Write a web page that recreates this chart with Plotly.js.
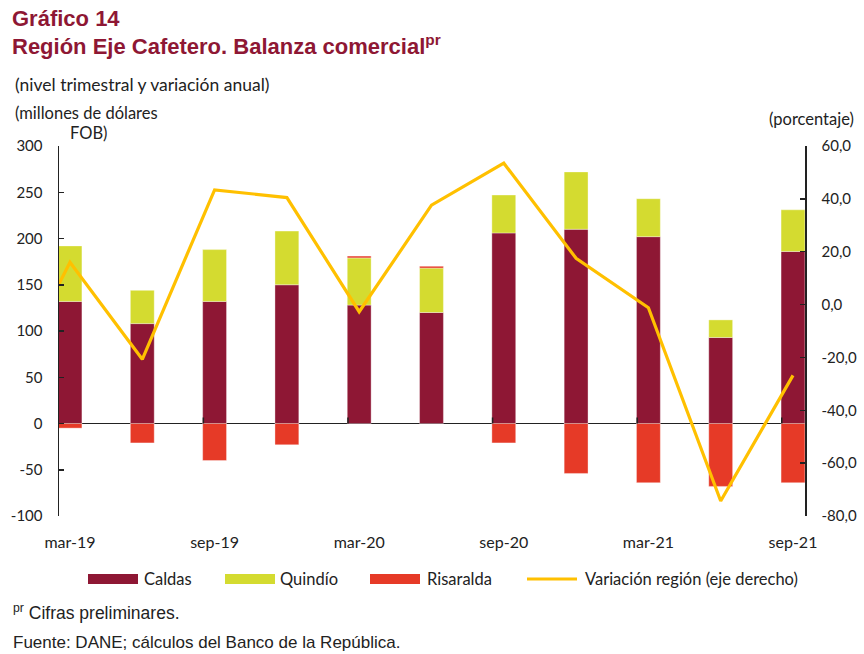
<!DOCTYPE html>
<html>
<head>
<meta charset="utf-8">
<script src="https://cdn.plot.ly/plotly-3.0.1.min.js"></script>
<style>html,body{margin:0;padding:0;background:#fff;} #chart{width:864px;height:654px;}</style>
</head>
<body>
<div id="chart"></div>
<script>
// ---- data ----
const quarters = ['mar-19','jun-19','sep-19','dec-19','mar-20','jun-20','sep-20','dec-20','mar-21','jun-21','sep-21'];
const caldas    = [132, 108, 132, 150, 128, 120, 206, 210, 202, 93, 186];
const quindio   = [60, 36, 56, 58, 51, 48, 41, 62, 41, 19, 45];
const risaralda = [-5, -21, -40, -23, 2, 2, -21, -54, -64, -68, -64];
const variacion = [16.0, -20.7, 43.4, 40.5, -2.7, 37.6, 53.5, 17.5, -1.2, -74.3, -26.8];
const variacionPrevQuarter = -38; // dec-18, only visible as the clipped start of the line
const leftTickVals  = [-100, -50, 0, 50, 100, 150, 200, 250, 300];
const leftTickText  = ['-100', '-50', '0', '50', '100', '150', '200', '250', '300'];
const rightTickVals = [-80, -60, -40, -20, 0, 20, 40, 60];
const rightTickText = ['-80,0', '-60,0', '-40,0', '-20,0', '0,0', '20,0', '40,0', '60,0'];
const labelEvery = 2;

// ---- layout helpers ----
const W = 864, H = 654;
const PL = 59, PR = 805, PT = 146, PB = 516;
const px = x => (x - PL) / (PR - PL);
const py = y => (PB - y) / (PB - PT);

const idx = quarters.map((_, i) => i);
const font = 'Lato, "Open Sans", sans-serif';
const arial = '"Liberation Sans", Arial, sans-serif';
const wine = '#8E1734';
const cQ = '#D4DB30';
const cR = '#E63A27';
const cL = '#FFC000';
const edge = {color: 'rgba(255,255,255,0.35)', width: 1};

const traces = [
  {type: 'bar', name: 'Caldas', x: idx, y: caldas, marker: {color: wine, line: edge}, width: 0.33, yaxis: 'y'},
  {type: 'bar', name: 'Quindío', x: idx, y: quindio, marker: {color: cQ, line: edge}, width: 0.33, yaxis: 'y'},
  {type: 'bar', name: 'Risaralda', x: idx, y: risaralda, marker: {color: cR, line: edge}, width: 0.33, yaxis: 'y'},
  {type: 'scatter', mode: 'lines', name: 'Variación región (eje derecho)', x: [-1].concat(idx), y: [variacionPrevQuarter].concat(variacion),
   line: {color: cL, width: 3.2}, yaxis: 'y2'}
];

const tickIdx = idx.filter(i => i % labelEvery === 0);

const shapes = [];
// small tick marks on the zero line
tickIdx.filter(i => i > 0).forEach(i => {
  shapes.push({type: 'line', xref: 'x', yref: 'y', x0: i - 0.155, x1: i - 0.155, y0: 0, y1: 6.5, line: {color: '#222', width: 1.5}});
});

// custom legend
const legendItems = [
  {label: 'Caldas', color: wine, kind: 'bar', sx: 88, tx: 142},
  {label: 'Quindío', color: cQ, kind: 'bar', sx: 225, tx: 278},
  {label: 'Risaralda', color: cR, kind: 'bar', sx: 370, tx: 425},
  {label: 'Variación región (eje derecho)', color: cL, kind: 'line', sx: 527, tx: 583}
];
const LY = 579;
const annotations = [];
legendItems.forEach(it => {
  if (it.kind === 'bar') {
    shapes.push({type: 'rect', xref: 'paper', yref: 'paper', x0: px(it.sx), x1: px(it.sx + 50), y0: py(LY + 5), y1: py(LY - 5), fillcolor: it.color, line: {width: 0}});
  } else {
    shapes.push({type: 'line', xref: 'paper', yref: 'paper', x0: px(it.sx), x1: px(it.sx + 50), y0: py(LY), y1: py(LY), line: {color: it.color, width: 3}});
  }
  annotations.push({xref: 'paper', yref: 'paper', x: px(it.tx), y: py(LY), xanchor: 'left', yanchor: 'middle', showarrow: false,
    text: it.label, font: {family: font, size: 16.5, color: '#222'}});
});

function txt(text, x, y, opts) {
  annotations.push(Object.assign({xref: 'paper', yref: 'paper', x: px(x), y: py(y), xanchor: 'left', yanchor: 'middle', showarrow: false,
    text: text, font: {family: font, size: 16.5, color: '#222'}}, opts || {}));
}
const titleFont = {family: arial, size: 22, color: '#8E1734', weight: 700};
txt('<b>Gráfico 14</b>', 10, 18, {font: titleFont});
txt('<b>Región Eje Cafetero. Balanza comercial<sup>pr</sup></b>', 10, 45, {font: titleFont});
txt('(nivel trimestral y variación anual)', 13, 85, {font: {family: font, size: 17.5, color: '#222'}});
txt('(millones de dólares', 13, 113);
txt('FOB)', 68, 133);
txt('(porcentaje)', 856, 119, {xanchor: 'right'});
txt('<sup>pr</sup> Cifras preliminares.', 11, 612, {font: {family: arial, size: 17.5, color: '#222'}});
txt('Fuente: DANE; cálculos del Banco de la República.', 11, 642, {font: {family: arial, size: 17, color: '#222'}});

const layout = {
  width: W, height: H,
  margin: {l: PL, r: W - PR, t: PT, b: H - PB, pad: 0},
  paper_bgcolor: '#fff', plot_bgcolor: '#fff',
  barmode: 'relative',
  showlegend: false,
  separators: ',.',
  font: {family: font, size: 15, color: '#222'},
  xaxis: {
    range: [-0.152, 10.166], showgrid: false, zeroline: false, showline: false,
    tickmode: 'array', tickvals: tickIdx, ticktext: tickIdx.map(i => quarters[i]),
    ticks: '', ticklabelstandoff: 15, tickfont: {family: font, size: 16, color: '#222'}
  },
  yaxis: {
    range: [-100, 300], showgrid: false, zeroline: true, zerolinecolor: '#222', zerolinewidth: 1.2,
    showline: true, linecolor: '#222', linewidth: 1.5, ticks: 'inside', ticklen: 5, tickcolor: '#222', tickwidth: 1.5,
    tickmode: 'array', tickvals: leftTickVals, ticktext: leftTickText,
    ticklabelstandoff: 12, tickfont: {family: font, size: 15, color: '#222'}
  },
  yaxis2: {
    range: [-80, 60], overlaying: 'y', side: 'right', showgrid: false, zeroline: false,
    showline: true, linecolor: '#222', linewidth: 1.5, ticks: 'inside', ticklen: 5, tickcolor: '#222', tickwidth: 1.5,
    tickmode: 'array', tickvals: rightTickVals, ticktext: rightTickText,
    ticklabelstandoff: 12, tickfont: {family: font, size: 15, color: '#222'}
  },
  shapes: shapes,
  annotations: annotations
};

Plotly.newPlot('chart', traces, layout, {displayModeBar: false, staticPlot: true});
</script>
</body>
</html>
